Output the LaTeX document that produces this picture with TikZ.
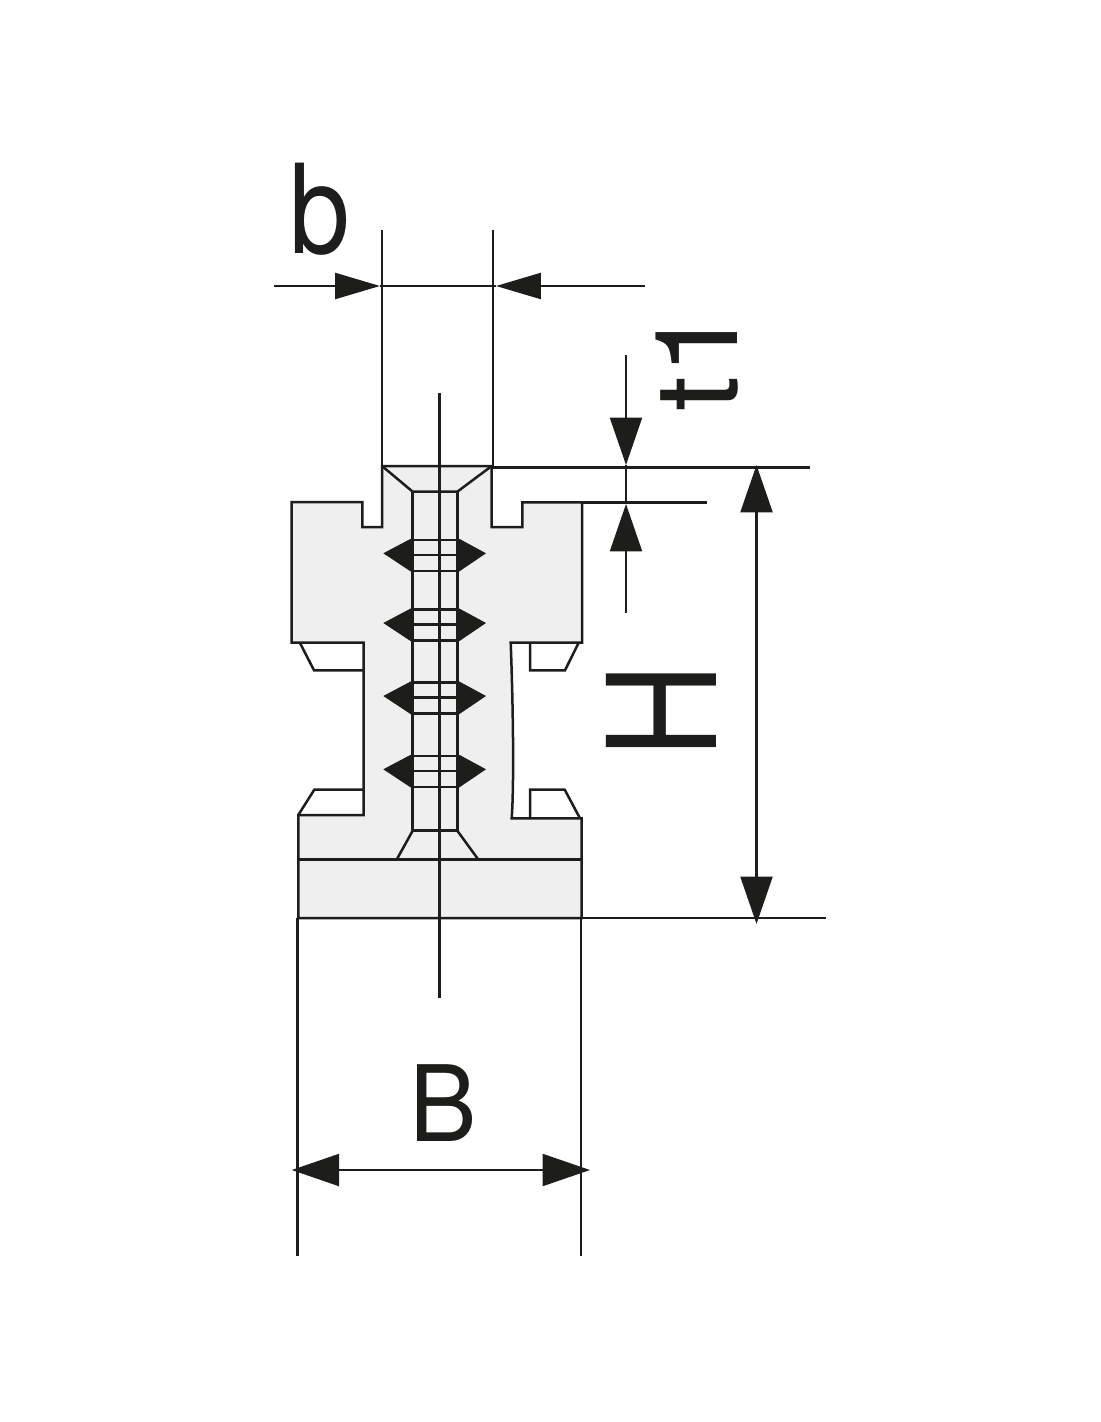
\documentclass[tikz,border=0pt]{standalone}
\usepackage{fontspec}
\setmainfont{TeX Gyre Heros}
\usetikzlibrary{arrows.meta}
\definecolor{inkblack}{HTML}{1D1D1B}
\definecolor{partgrey}{HTML}{EFEFEF}
\tikzset{
    partline/.style={draw=inkblack,line width=0.5mm},
    dimline/.style={draw=inkblack,line width=0.48mm},
    headbig/.tip={Triangle[length=0.95cm,width=0.64cm]},
    headsmall/.tip={Triangle[length=0.9cm,width=0.52cm]},
    dimlabel/.style={text=inkblack,inner sep=0pt}
}
\begin{document}
\begin{tikzpicture}[x=0.02cm,y=-0.02cm]
    \useasboundingbox (0,0) rectangle (1100,1422);
    \filldraw[partline,fill=partgrey] (382,466) -- (382,527) -- (362.3,527) -- (362.3,502) -- (291.5,502) -- (291.5,642.7)
        -- (363.7,642.7) -- (363.7,815) -- (298.3,815) -- (298.3,918) -- (581.5,918) -- (581.5,818.3) -- (511.7,818.3)
        .. controls (513.8,790) and (513.6,720) .. (510.7,642.7)
        -- (582,642.7) -- (582,502.3) -- (522.3,502.3) -- (522.3,527) -- (491.7,527) -- (491.7,466) -- cycle;
    \draw[partline] (300,643) -- (314,670.3) -- (363.7,670.3);
    \draw[partline] (530,643) -- (530,670.3) -- (565,670.3) -- (578.3,643.5);
    \draw[partline] (298.3,815) -- (314.3,789.7) -- (363.7,789.7);
    \draw[partline] (530,818.3) -- (530,789.7) -- (564.7,789.7) -- (580,818.3);
    \draw[partline] (298.3,859.5) -- (581.5,859.5);
    \draw[partline] (382,466) -- (412.7,491.7) -- (457.3,491.7) -- (491.7,466);
    \draw[partline] (412.7,491.7) -- (412.7,830.7) -- (457.3,830.7) -- (457.3,491.7);
    \draw[partline] (396.7,859.5) -- (412.7,830.7);
    \draw[partline] (478.3,859.5) -- (457.3,830.7);
    \foreach \y in {553.3,623,696,769.3} {
        \fill[inkblack] (413.5,\y-16) -- (383.3,\y) -- (413.5,\y+20) -- cycle;
        \fill[inkblack] (456.5,\y-16) -- (486,\y) -- (456.5,\y+20) -- cycle;
        \draw[partline] (412.7,\y-13.3) -- (457.3,\y-13.3);
        \draw[partline] (412.7,\y+1.7) -- (457.3,\y+1.7);
        \draw[partline] (412.7,\y+17.7) -- (457.3,\y+17.7);
    }
    \draw[partline] (439.5,393) -- (439.5,998);

    \coordinate (bwest) at (274,286);
    \coordinate (bleft) at (380,286);
    \coordinate (bright) at (496,286);
    \coordinate (beast) at (645,286);
    \coordinate (tupper) at (626,355);
    \coordinate (ttop) at (626,465);
    \coordinate (tbottom) at (626,504);
    \coordinate (tlower) at (626,612.5);
    \coordinate (Htop) at (756.5,465);
    \coordinate (Hbottom) at (756.5,924);
    \coordinate (Bleft) at (291.7,1170);
    \coordinate (Bright) at (590,1170);

    \draw[dimline] (382,230) -- (382,466);
    \draw[dimline] (492.7,230) -- (492.7,466);
    \draw[dimline] (491.7,467.5) -- (810,467.5);
    \draw[dimline] (582,502.3) -- (706.7,502.3);
    \draw[dimline] (562,917.8) -- (825.7,917.8);
    \draw[dimline] (297.5,918) -- (297.5,1255.7);
    \draw[dimline] (581,918) -- (581,1255.7);

    \draw[dimline] (bleft) -- (bright);
    \draw[dimline,-{headsmall[fill=inkblack]}] (bwest) -- (bleft);
    \draw[dimline,-{headsmall[fill=inkblack]}] (beast) -- (bright);
    \draw[dimline] (ttop) -- (tbottom);
    \draw[dimline,-{headbig[fill=inkblack]}] (tupper) -- (ttop);
    \draw[dimline,-{headbig[fill=inkblack]}] (tlower) -- (tbottom);
    \draw[dimline,{headbig[fill=inkblack]}-{headbig[fill=inkblack]}] (Htop) -- (Hbottom);
    \draw[dimline,{headbig[fill=inkblack]}-{headbig[fill=inkblack]}] (Bleft) -- (Bright);

    \node[dimlabel] (blabel) at (319.8,209.5) {\scalebox{0.88}[1]{\fontsize{70.6}{70.6}\selectfont b}};
    \node[dimlabel,rotate=90] (tlabel) at (697.4,358.7) {\scalebox{1.1}[1]{\fontsize{65.5}{65.5}\selectfont t1}};
    \node[dimlabel,rotate=90] (Hlabel) at (661,710.8) {\scalebox{0.87}[1]{\fontsize{86}{86}\selectfont H}};
    \node[dimlabel] (Blabel) at (443,1103) {\scalebox{0.96}[1]{\fontsize{60}{60}\selectfont B}};
    \end{tikzpicture}
\end{document}
